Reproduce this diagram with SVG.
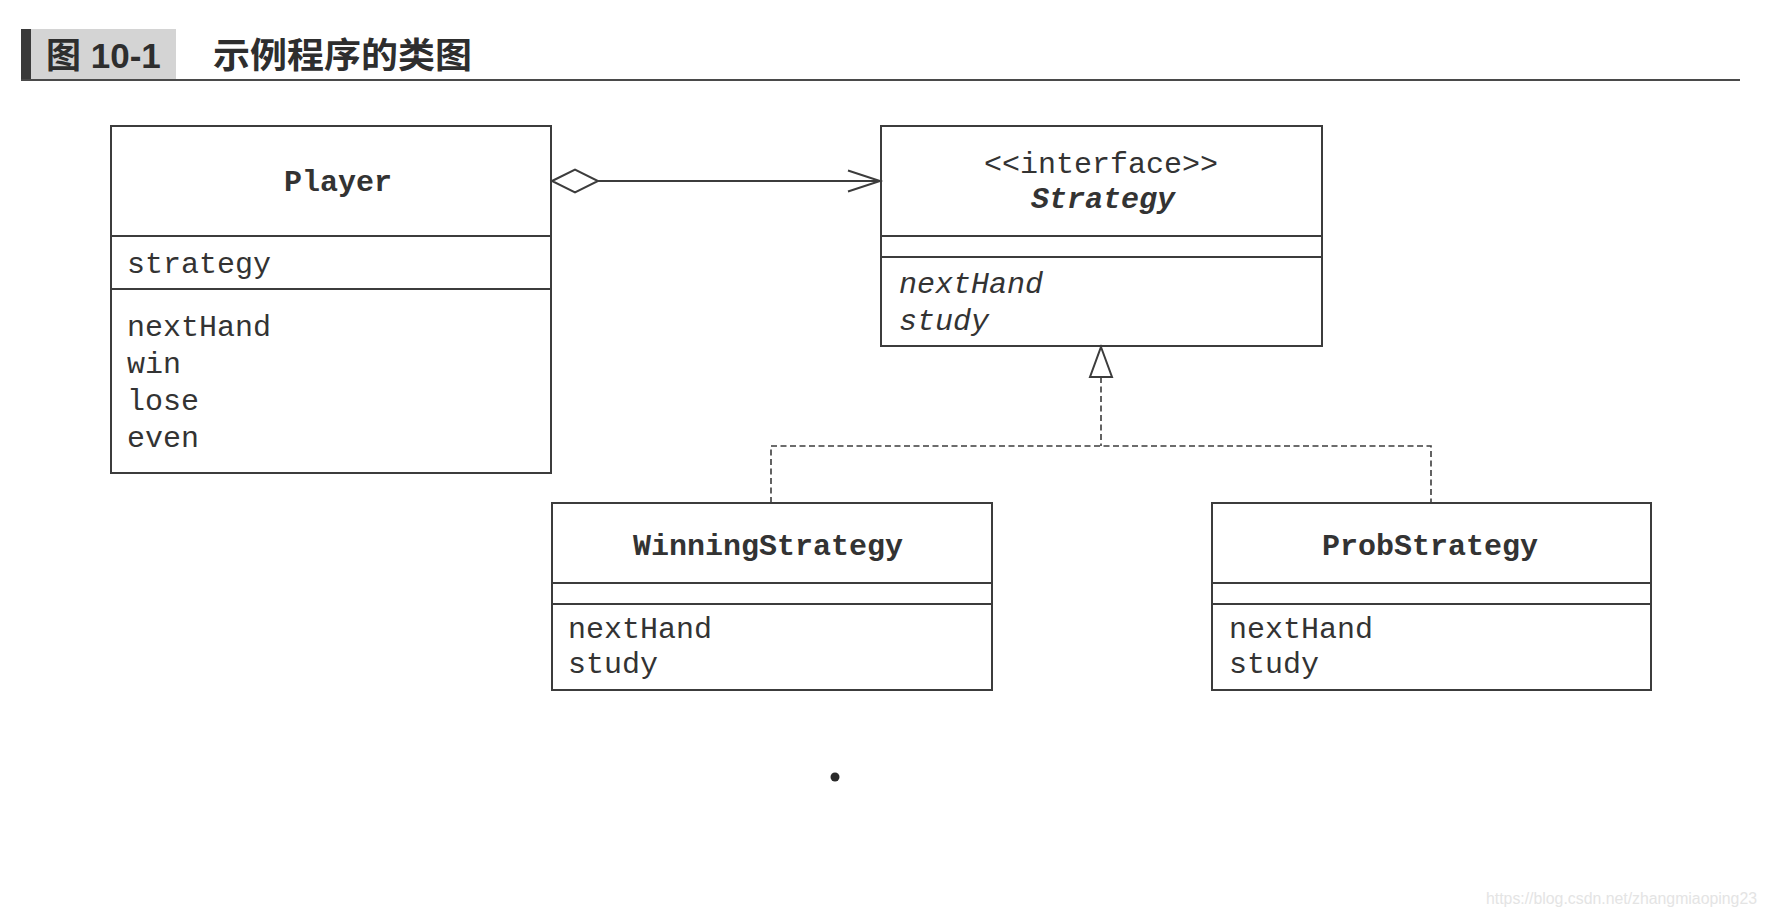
<svg xmlns="http://www.w3.org/2000/svg" width="1767" height="917" viewBox="0 0 1767 917">
  <style>
    .box { fill: #ffffff; stroke: #3c3c3c; stroke-width: 2; }
    .div { stroke: #3c3c3c; stroke-width: 2; fill: none; }
    .mono { font-family: "Liberation Mono", "DejaVu Sans Mono", monospace; font-size: 30px; fill: #333333; }
    .title { font-weight: bold; text-anchor: middle; }
    .ital { font-style: italic; }
    .conn { stroke: #3c3c3c; stroke-width: 2; fill: none; }
    .dash { stroke: #3c3c3c; stroke-width: 1.6; fill: none; stroke-dasharray: 6 3.5; }
    .hdr { font-family: "Liberation Sans", "Noto Sans CJK SC", sans-serif; font-weight: bold; font-size: 35px; fill: #2e2e2e; }
  </style>
  <rect x="0" y="0" width="1767" height="917" fill="#ffffff"/>

  <g id="header">
    <rect x="31" y="29" width="145" height="50" fill="#d4d4d4"/>
    <rect x="21" y="29" width="10" height="51" fill="#3a3a3a"/>
    <line x1="21" y1="80" x2="1740" y2="80" stroke="#4a4a4a" stroke-width="2"/>
    <text class="hdr" x="46" y="68">图 10-1</text>
    <text class="hdr" x="213" y="68" textLength="259" lengthAdjust="spacingAndGlyphs">示例程序的类图</text>
  </g>

  <g id="Player">
    <rect class="box" x="111" y="126" width="440" height="347"/>
    <line class="div" x1="111" y1="236" x2="551" y2="236"/>
    <line class="div" x1="111" y1="289" x2="551" y2="289"/>
    <text class="mono title" x="338" y="191">Player</text>
    <text class="mono" x="127" y="273">strategy</text>
    <text class="mono" x="127" y="336">nextHand</text>
    <text class="mono" x="127" y="373">win</text>
    <text class="mono" x="127" y="410">lose</text>
    <text class="mono" x="127" y="447">even</text>
  </g>

  <g id="Strategy">
    <rect class="box" x="881" y="126" width="441" height="220"/>
    <line class="div" x1="881" y1="236" x2="1322" y2="236"/>
    <line class="div" x1="881" y1="257" x2="1322" y2="257"/>
    <text class="mono" x="1101" y="173" text-anchor="middle">&lt;&lt;interface&gt;&gt;</text>
    <text class="mono title ital" x="1103" y="208">Strategy</text>
    <text class="mono ital" x="899" y="293">nextHand</text>
    <text class="mono ital" x="899" y="330">study</text>
  </g>

  <g id="WinningStrategy">
    <rect class="box" x="552" y="503" width="440" height="187"/>
    <line class="div" x1="552" y1="583" x2="992" y2="583"/>
    <line class="div" x1="552" y1="604" x2="992" y2="604"/>
    <text class="mono title" x="768" y="555">WinningStrategy</text>
    <text class="mono" x="568" y="638">nextHand</text>
    <text class="mono" x="568" y="673">study</text>
  </g>

  <g id="ProbStrategy">
    <rect class="box" x="1212" y="503" width="439" height="187"/>
    <line class="div" x1="1212" y1="583" x2="1651" y2="583"/>
    <line class="div" x1="1212" y1="604" x2="1651" y2="604"/>
    <text class="mono title" x="1430" y="555">ProbStrategy</text>
    <text class="mono" x="1229" y="638">nextHand</text>
    <text class="mono" x="1229" y="673">study</text>
  </g>

  <g id="connectors">
    <polygon class="conn" points="552,181 575,169.5 598,181 575,192.5" fill="#ffffff"/>
    <line class="conn" x1="598" y1="181" x2="880" y2="181"/>
    <polyline class="conn" points="848,170.5 880,181 848,191.5"/>
    <polygon class="conn" points="1101,347 1112,377 1090,377" fill="#ffffff"/>
    <line class="dash" x1="1101" y1="377" x2="1101" y2="446"/>
    <polyline class="dash" points="771,503 771,446 1431,446 1431,503"/>
  </g>

  <circle cx="835" cy="777" r="4.5" fill="#2a2a2a"/>
  <text x="1486" y="904" font-family="Liberation Sans, sans-serif" font-size="16" fill="#e4e4e4" textLength="271" lengthAdjust="spacingAndGlyphs">https://blog.csdn.net/zhangmiaoping23</text>
</svg>
